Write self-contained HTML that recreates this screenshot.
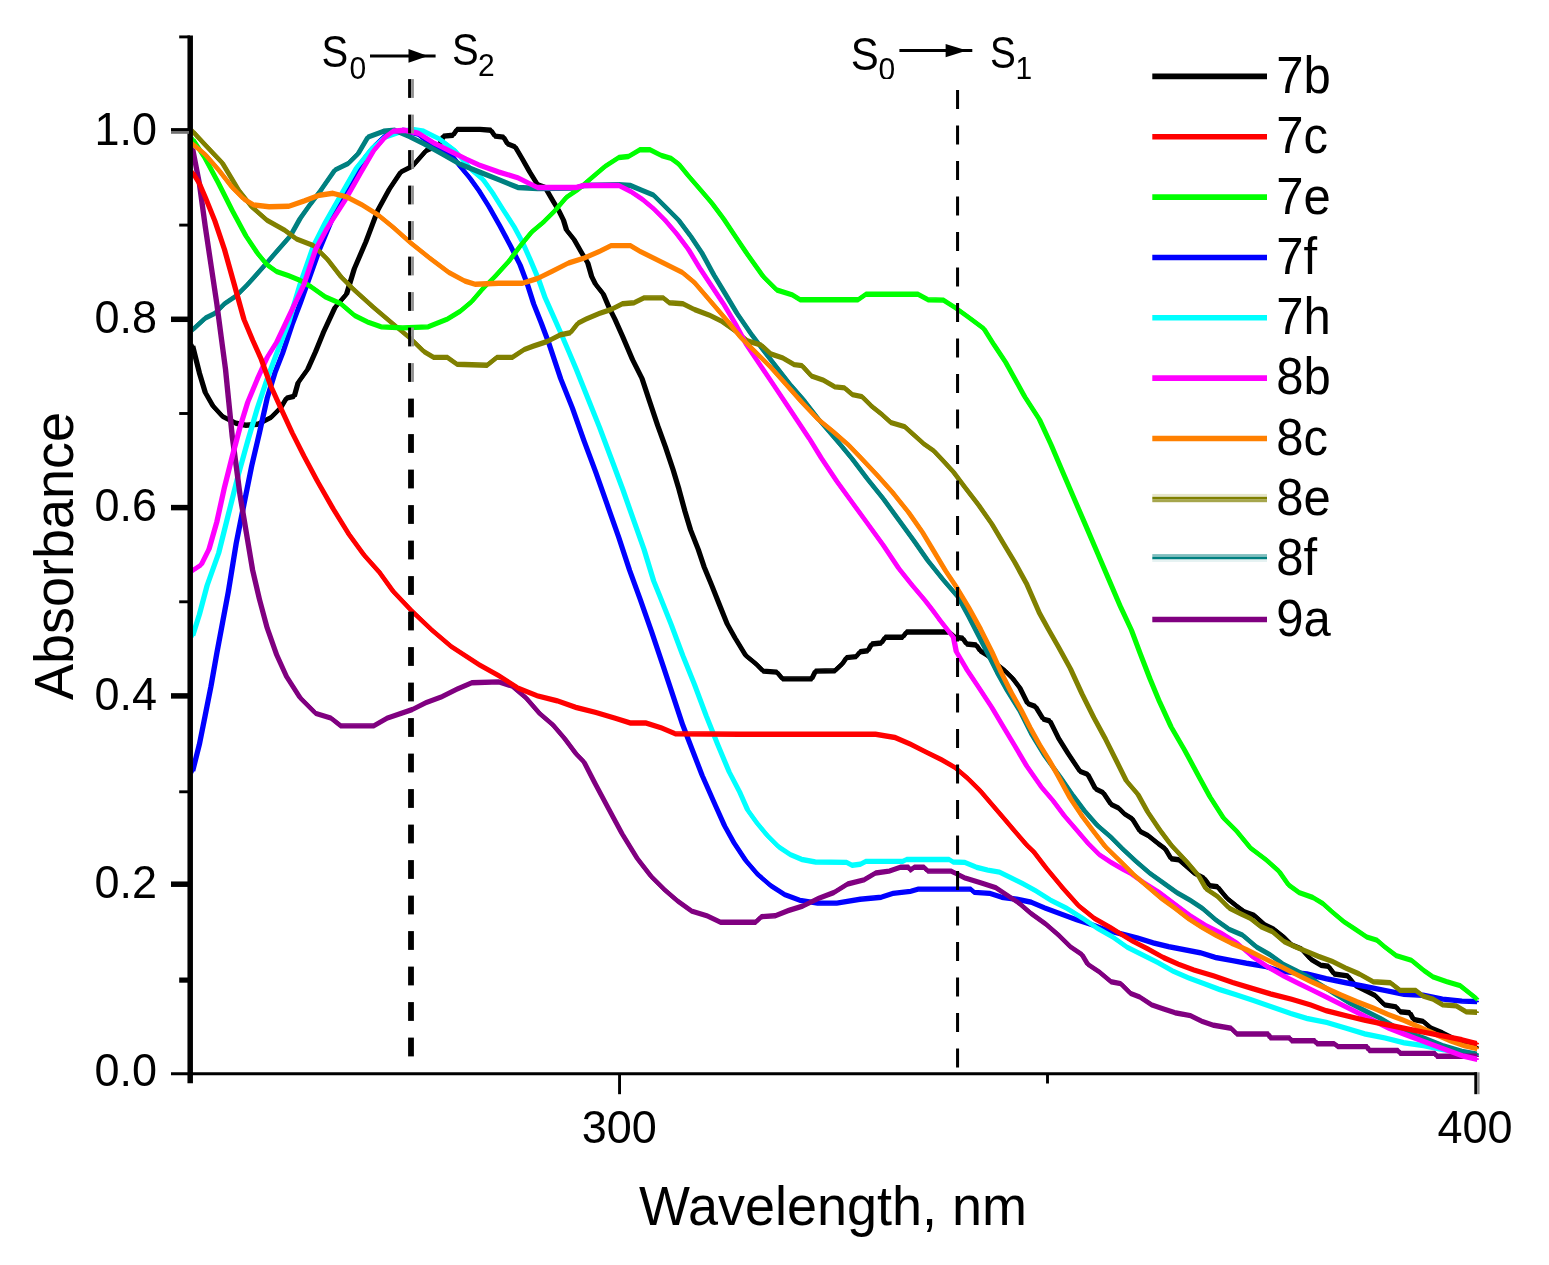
<!DOCTYPE html>
<html lang="en"><head><meta charset="utf-8"><title>Absorbance spectra</title>
<style>html,body{margin:0;padding:0;background:#fff}svg{display:block}text{font-family:"Liberation Sans",sans-serif;fill:#000}</style>
</head><body>
<svg width="1549" height="1265" viewBox="0 0 1549 1265">
<rect width="1549" height="1265" fill="#fff"/>
<defs>
<polyline id="c-black" points="192.6,345.8 199.4,372.9 205.2,392.3 212.9,405.9 222.6,416.5 236.2,423.3 245.9,425.2 257.5,424.3 271.0,417.5 280.7,407.8 286.5,398.1 294.3,396.2 298.1,382.6 307.8,369.1 315.6,351.6 323.3,332.7 334.9,307.6 346.6,294.0 354.3,268.8 365.9,241.7 377.6,210.7 389.2,189.4 400.8,172.0 412.4,166.2 426.0,150.7 439.5,144.9 443.4,136.1 453.1,135.2 457.0,129.4 480.0,129.4 491.0,130.3 494.9,136.1 503.6,137.1 507.5,143.9 515.2,146.8 522.0,158.4 529.7,172.0 537.5,184.6 545.2,187.5 553.0,201.0 558.8,210.7 563.6,220.4 566.5,230.1 574.3,239.8 582.0,253.3 587.8,263.0 591.7,276.6 595.6,284.3 603.3,294.0 609.1,307.6 614.9,319.2 622.7,336.6 632.4,359.4 642.1,378.7 649.8,402.0 657.6,425.2 665.3,446.5 673.1,469.8 678.9,489.1 684.7,510.4 690.5,529.8 698.2,549.2 704.0,566.6 711.8,585.5 719.5,604.9 727.3,624.2 735.0,637.8 745.8,655.6 755.5,663.4 763.2,671.1 776.8,672.1 782.6,678.9 811.7,678.9 815.5,671.1 834.9,670.7 842.7,663.4 846.5,657.6 856.2,656.6 860.1,651.7 867.8,650.8 871.7,644.0 881.4,643.0 885.3,637.2 902.7,637.2 906.6,632.0 949.2,632.0 955.0,637.2 962.7,638.2 966.6,644.0 976.3,645.0 980.2,650.8 987.9,655.6 995.7,663.4 1005.3,671.1 1013.1,678.9 1020.0,688.1 1027.7,703.6 1035.5,706.5 1043.2,719.1 1050.0,721.0 1058.7,738.5 1068.4,754.0 1080.0,771.4 1087.8,774.3 1095.5,788.8 1103.3,792.7 1111.0,804.3 1118.8,808.2 1124.6,814.0 1132.3,818.8 1140.1,831.4 1147.8,835.3 1157.5,843.1 1165.3,848.9 1171.1,858.7 1178.8,859.7 1186.6,866.5 1194.3,873.2 1204.0,878.1 1209.8,885.8 1217.6,886.8 1221.4,891.6 1227.2,898.4 1236.9,906.2 1244.7,912.0 1254.4,915.5 1264.5,924.6 1274.2,929.4 1283.9,937.2 1291.6,944.9 1301.3,948.8 1311.0,959.4 1320.7,965.2 1328.4,966.2 1334.2,974.0 1347.8,975.9 1355.5,985.6 1367.1,991.4 1374.9,995.3 1384.6,1004.9 1396.2,1006.9 1400.1,1011.7 1409.8,1012.7 1413.6,1019.5 1423.3,1021.4 1431.1,1028.2 1442.7,1033.0 1458.2,1040.8 1477.0,1047.6"/>
<polyline id="c-blue" points="192.6,771.4 199.4,744.3 205.2,715.3 211.0,686.2 216.8,653.3 222.6,622.3 228.4,591.3 236.2,543.4 243.9,504.6 251.7,465.9 259.4,433.0 267.2,398.1 274.9,372.9 282.7,353.0 292.0,325.0 300.1,303.7 319.5,249.5 338.8,203.0 350.4,187.5 365.9,156.5 373.7,146.8 385.0,136.0 402.7,130.3 418.0,134.0 431.8,144.9 451.2,154.5 460.0,166.2 469.7,177.8 479.4,191.3 489.1,206.8 500.0,226.2 510.4,245.6 520.1,264.9 527.4,284.3 533.6,303.7 541.3,323.1 549.1,343.9 560.7,378.7 572.3,407.8 584.0,440.7 595.6,471.7 607.2,504.6 618.8,537.6 629.5,570.0 640.1,599.1 651.7,632.0 663.4,666.8 673.1,695.9 682.7,724.9 692.4,750.1 702.1,775.3 715.0,804.5 724.6,825.9 734.3,843.3 745.9,860.7 757.6,874.3 771.1,885.9 784.7,894.6 800.2,900.4 817.5,903.1 836.8,903.1 860.1,899.2 881.4,897.2 893.0,893.4 910.4,891.4 918.2,889.1 970.5,889.1 974.4,892.4 989.8,893.4 1001.5,897.2 1017.0,899.2 1031.6,902.3 1045.2,908.1 1060.7,913.9 1076.2,919.7 1091.7,924.6 1107.2,930.4 1122.7,934.3 1138.1,938.1 1153.6,943.0 1169.1,946.8 1184.6,949.7 1200.1,952.7 1215.6,957.5 1231.1,960.4 1246.6,963.3 1264.5,966.2 1280.0,971.1 1307.1,974.0 1326.5,978.8 1345.8,982.7 1365.2,986.5 1384.6,990.4 1403.9,994.3 1423.3,995.3 1442.7,999.1 1462.1,1001.1 1477.0,1001.5"/>
<polyline id="c-cyan" points="192.6,635.9 199.4,614.5 207.1,585.5 218.7,553.0 228.4,514.3 238.1,475.6 247.8,440.7 257.5,407.8 267.2,378.7 276.8,353.0 288.5,323.0 300.1,284.3 313.6,245.6 325.3,222.3 340.8,195.2 356.3,168.1 371.7,148.7 385.3,137.1 398.9,132.3 412.4,129.4 424.0,131.3 439.5,139.0 455.0,150.7 471.6,170.0 483.2,179.7 492.9,193.3 502.6,208.8 513.8,226.2 522.2,241.7 530.0,259.1 539.0,280.4 545.2,297.9 553.0,315.3 560.7,332.7 569.4,353.0 576.2,369.1 587.8,398.1 599.5,427.2 611.1,458.1 622.7,489.1 634.3,522.1 644.0,549.2 653.7,581.0 659.5,595.2 671.1,624.2 682.7,655.2 694.4,684.3 706.0,715.3 717.6,744.3 729.2,772.0 740.0,792.7 747.7,810.1 757.4,823.6 767.1,835.3 778.7,846.9 790.4,854.6 802.0,859.5 815.5,862.0 846.5,862.4 852.3,865.3 860.1,864.3 865.9,861.4 902.7,861.4 906.6,859.5 949.2,859.5 953.1,862.0 964.7,862.4 976.3,867.2 987.9,870.1 999.5,872.1 1011.2,877.9 1022.8,883.7 1035.5,890.7 1051.0,900.4 1066.5,908.1 1082.0,917.8 1097.5,928.4 1113.0,937.2 1126.5,946.8 1142.0,954.6 1157.5,962.3 1173.0,971.1 1188.5,977.8 1204.0,983.6 1219.5,989.5 1235.0,994.3 1252.4,1000.1 1271.8,1006.9 1291.2,1013.7 1307.1,1018.5 1326.5,1022.4 1345.8,1028.2 1365.2,1034.0 1384.6,1037.9 1403.9,1042.7 1423.3,1045.6 1442.7,1049.5 1462.1,1052.4 1477.0,1055.3"/>
<polyline id="c-teal" points="192.6,329.8 205.2,318.2 214.9,313.4 224.5,303.7 236.2,295.9 247.8,284.3 263.3,266.9 276.8,251.4 290.4,235.9 300.1,218.5 309.8,204.9 321.4,189.4 334.9,170.0 348.5,163.3 358.2,153.6 367.9,137.1 383.4,131.3 395.0,130.3 408.5,136.1 424.0,143.9 441.5,153.6 460.0,164.2 479.4,172.0 498.7,179.7 518.1,187.5 537.5,188.5 576.2,188.0 584.0,185.5 618.8,184.6 630.4,185.5 642.1,190.4 653.7,195.2 665.3,206.8 678.9,220.4 690.5,235.9 702.1,253.3 713.7,274.6 725.4,294.0 737.0,313.4 751.6,334.6 763.2,350.1 776.8,367.5 790.4,384.9 803.9,400.4 817.5,417.9 829.1,431.4 840.7,445.0 852.3,459.0 867.8,479.4 883.3,498.7 898.8,520.0 914.3,541.3 927.9,560.7 943.4,580.1 958.5,597.5 969.0,616.9 979.0,636.3 987.9,653.7 997.6,673.0 1007.3,690.5 1020.0,711.0 1031.6,734.0 1045.0,756.0 1060.7,777.8 1072.3,794.6 1083.9,810.1 1097.5,825.6 1111.0,837.2 1122.7,849.0 1136.2,861.6 1149.8,873.2 1163.3,882.9 1176.9,892.6 1190.4,900.4 1202.1,908.1 1215.6,919.7 1229.2,929.4 1242.7,935.2 1256.3,946.8 1269.9,954.6 1283.4,964.3 1297.0,971.1 1310.5,978.0 1318.7,983.6 1334.2,993.3 1349.7,1003.0 1365.2,1010.8 1380.7,1018.5 1400.1,1030.1 1423.3,1037.9 1442.7,1045.6 1462.1,1051.4 1477.0,1054.3"/>
<polyline id="c-olive" points="192.6,131.3 205.2,144.9 222.6,163.3 238.1,189.4 251.7,206.8 267.2,220.4 284.6,230.1 296.2,238.8 313.6,245.6 327.2,259.1 340.8,276.6 354.3,290.1 373.7,307.6 393.1,324.0 410.5,338.5 424.0,351.6 433.7,357.4 447.3,357.4 457.0,364.2 487.1,365.2 496.8,357.4 512.3,357.4 523.9,349.7 533.6,346.0 547.2,341.5 560.7,334.7 570.4,332.7 578.1,323.1 585.9,319.2 599.5,313.4 611.1,309.5 622.7,303.7 634.3,302.7 644.0,297.9 663.4,297.9 669.2,302.7 682.7,303.7 694.4,309.5 709.9,315.3 721.5,321.1 735.0,330.8 747.7,341.0 761.3,345.2 771.0,354.0 782.6,357.8 794.2,364.6 802.0,365.6 811.7,376.2 823.3,380.1 834.9,386.9 844.6,387.9 852.3,394.6 862.0,396.6 871.7,406.3 881.4,414.0 891.1,422.7 904.6,426.6 914.3,435.3 924.0,444.0 933.7,450.8 943.4,461.0 953.1,471.6 964.7,487.1 978.2,504.5 991.8,523.9 1003.4,543.3 1015.0,562.7 1026.7,584.0 1039.4,613.0 1049.0,630.3 1058.7,647.4 1070.4,668.7 1082.0,693.9 1093.6,717.2 1105.2,738.5 1116.8,761.7 1126.5,781.1 1138.1,794.6 1147.8,812.1 1159.5,829.5 1171.1,845.0 1186.6,861.6 1198.2,875.2 1205.9,888.7 1217.6,896.5 1229.2,908.1 1240.8,913.9 1250.5,918.5 1260.6,926.5 1272.2,931.5 1283.9,941.5 1295.5,946.8 1307.1,951.7 1318.7,956.5 1332.3,961.4 1345.8,968.1 1359.4,974.0 1373.0,981.7 1390.4,982.7 1400.1,990.4 1415.6,990.4 1423.3,996.2 1433.0,999.1 1442.7,1004.9 1456.2,1005.9 1465.9,1011.7 1477.0,1012.3"/>
<polyline id="c-purple" points="192.6,148.7 199.4,183.6 205.2,226.2 211.0,265.0 216.8,303.7 221.6,340.0 225.5,369.1 228.4,398.1 232.3,436.8 236.2,465.9 240.0,494.9 243.9,518.2 247.8,541.4 252.6,570.0 259.4,599.1 267.2,628.1 276.8,655.2 286.5,676.5 300.1,697.8 315.6,713.3 331.1,718.2 340.8,725.9 373.7,725.9 387.2,718.2 412.4,709.5 426.0,702.7 441.5,696.9 457.0,689.1 471.6,682.8 498.7,681.9 512.3,686.2 525.9,697.8 539.4,713.3 553.0,724.9 564.6,738.5 576.2,754.0 584.0,762.0 594.9,783.2 608.4,808.4 622.0,833.6 637.5,858.8 651.0,876.2 664.6,889.8 678.1,901.4 691.7,911.1 707.2,915.9 720.8,922.3 755.6,922.3 761.3,916.7 775.0,915.8 788.5,910.5 803.0,906.0 818.5,898.4 834.0,892.5 847.6,884.0 864.0,879.8 875.6,873.0 889.1,871.1 900.8,867.2 908.5,867.2 910.4,870.1 914.3,867.2 924.0,867.2 927.9,871.1 951.1,871.1 955.0,873.0 964.7,877.9 980.2,882.7 995.7,887.6 1007.3,895.3 1018.9,903.1 1031.6,913.9 1045.2,923.6 1058.7,935.2 1070.4,946.8 1082.0,954.6 1087.8,964.3 1099.4,972.0 1111.0,981.7 1120.7,983.6 1130.4,993.3 1140.1,997.2 1151.7,1004.9 1163.3,1008.8 1174.9,1012.7 1190.4,1015.6 1202.1,1021.4 1213.7,1025.3 1231.1,1028.2 1236.9,1034.0 1268.4,1034.0 1270.3,1037.9 1289.7,1037.9 1291.6,1040.8 1314.9,1040.8 1316.8,1043.7 1334.2,1043.7 1338.1,1046.6 1367.1,1046.6 1369.1,1050.5 1398.1,1050.5 1400.1,1053.4 1434.9,1053.4 1436.9,1056.3 1477.0,1056.3"/>
<polyline id="c-green" points="192.6,139.0 205.2,158.4 218.7,183.6 232.3,210.7 245.9,235.9 257.5,253.3 267.2,264.9 276.8,271.7 288.5,275.6 300.1,280.4 311.7,287.2 325.3,296.9 340.8,303.7 354.3,315.3 367.9,322.1 381.4,326.9 402.7,327.9 427.9,326.9 447.3,319.2 460.0,311.4 471.6,301.7 483.2,288.2 494.9,276.6 509.0,261.1 520.6,245.6 531.7,232.0 543.3,222.3 554.9,210.7 566.5,197.2 578.1,189.4 591.7,177.8 605.3,166.2 618.8,157.5 628.5,156.5 640.1,149.7 649.8,149.7 661.4,155.5 671.1,158.4 678.9,164.2 688.5,175.9 700.2,189.4 711.8,203.0 723.4,218.5 735.0,235.9 746.7,253.3 763.2,276.5 776.8,290.0 792.3,294.9 800.0,299.7 858.1,299.7 865.9,294.3 918.2,294.3 927.9,299.7 943.4,300.1 955.0,307.5 968.5,317.2 984.0,328.8 993.7,344.3 1005.3,361.7 1015.0,379.1 1024.7,396.6 1039.4,419.4 1051.0,444.5 1062.6,471.7 1074.2,498.8 1085.9,525.9 1097.5,553.0 1109.1,580.1 1120.7,607.2 1131.4,630.0 1140.1,653.2 1149.8,678.4 1159.5,701.7 1171.1,726.8 1184.6,750.1 1198.2,775.3 1209.8,796.6 1223.4,817.9 1236.9,831.4 1250.5,848.0 1266.0,859.7 1279.0,871.3 1288.5,884.9 1299.2,892.6 1312.9,897.5 1322.6,903.3 1332.3,912.0 1343.9,921.7 1355.5,929.4 1367.1,937.2 1376.8,940.1 1384.6,946.8 1396.2,955.6 1411.7,960.4 1423.3,970.1 1433.0,976.9 1446.6,981.7 1460.1,985.6 1469.8,993.3 1477.0,999.1"/>
<polyline id="c-magenta" points="192.6,570.5 201.3,564.7 209.0,549.2 216.8,522.0 224.5,487.2 232.3,456.2 240.0,427.2 247.8,402.0 257.5,378.7 267.2,357.4 276.8,341.9 288.5,317.2 304.0,284.3 315.6,249.5 327.2,228.1 344.6,201.0 360.1,173.9 373.7,150.7 385.3,137.1 393.1,131.3 404.7,130.3 418.2,133.2 433.7,142.9 451.2,151.6 466.7,159.4 479.4,165.2 498.7,172.0 518.1,177.8 537.5,187.5 576.2,187.5 584.0,185.5 618.8,185.5 630.4,191.3 642.1,199.1 653.7,208.8 665.3,220.4 676.9,234.0 688.5,249.5 700.2,268.8 711.8,286.3 723.4,303.7 735.0,323.1 746.7,345.0 763.2,369.5 774.9,386.9 786.5,404.3 798.1,421.7 809.7,439.2 821.3,458.0 836.8,481.3 852.3,502.6 867.8,523.9 883.3,545.2 898.8,568.5 912.0,585.0 924.7,600.0 932.5,610.0 939.4,619.4 953.5,637.5 956.3,651.7 966.6,669.2 978.2,686.6 991.8,707.4 1003.4,726.8 1015.0,746.2 1026.7,766.0 1041.3,786.9 1052.9,800.4 1064.5,815.9 1076.2,829.5 1087.8,843.1 1099.4,854.7 1111.0,862.4 1122.7,869.2 1130.4,873.2 1144.0,882.9 1159.5,892.6 1174.9,904.2 1190.4,915.9 1205.9,925.5 1221.4,933.3 1236.9,943.0 1252.4,956.5 1267.9,967.0 1283.4,975.9 1298.9,983.6 1311.0,989.5 1326.5,997.2 1342.0,1004.9 1357.5,1012.7 1373.0,1020.4 1388.5,1028.2 1403.9,1034.0 1419.4,1039.8 1434.9,1045.6 1450.4,1051.4 1464.0,1056.3 1477.0,1059.2"/>
<polyline id="c-orange" points="192.6,143.9 205.2,154.5 218.7,170.0 232.3,187.5 243.9,199.1 253.6,204.9 269.1,206.8 288.5,206.3 304.0,201.0 319.5,195.2 333.0,193.3 346.6,196.8 362.1,204.9 377.6,214.6 393.1,227.2 410.5,242.7 429.9,258.2 449.2,272.7 464.7,281.0 475.5,284.3 498.7,283.3 522.0,283.3 537.5,278.5 553.0,270.8 568.5,263.0 584.0,258.2 599.5,251.4 611.1,245.6 630.4,245.6 640.1,251.4 653.7,258.2 667.2,264.9 682.7,272.7 694.4,282.4 706.0,295.9 717.6,309.5 729.2,323.1 740.8,337.5 755.5,352.0 771.0,367.5 786.5,384.9 802.0,402.4 817.5,418.8 833.0,431.4 848.5,445.0 862.0,459.0 877.5,475.5 893.0,492.9 908.5,512.3 922.1,531.7 933.7,551.0 945.3,570.4 956.9,587.8 968.5,607.2 980.2,628.5 991.8,651.7 1001.5,673.0 1011.2,692.4 1020.8,709.4 1029.7,726.8 1039.4,744.3 1049.0,759.8 1058.7,777.2 1070.4,798.5 1082.0,815.9 1093.6,831.4 1105.2,846.5 1120.7,861.6 1134.3,875.2 1147.8,886.8 1161.4,898.4 1174.9,908.1 1188.5,918.8 1202.1,927.5 1215.6,935.2 1231.1,943.0 1246.6,949.7 1264.5,958.5 1280.0,966.2 1295.5,974.0 1311.0,981.7 1326.5,988.5 1342.0,995.3 1357.5,1002.0 1373.0,1007.9 1388.5,1014.6 1403.9,1020.4 1419.4,1027.2 1434.9,1034.0 1450.4,1040.8 1464.0,1045.6 1477.0,1048.5"/>
<polyline id="c-red" points="192.6,172.5 199.4,183.5 205.2,197.0 214.9,221.0 224.5,249.5 234.2,284.3 243.9,319.2 252.6,340.0 261.3,359.4 271.0,386.5 280.7,407.8 292.3,433.0 304.0,456.2 317.5,481.4 333.0,508.5 348.5,533.7 364.0,555.0 379.5,572.4 393.1,591.3 412.4,611.6 431.8,630.0 451.2,646.5 479.4,664.9 498.7,675.6 518.1,688.1 537.5,695.9 556.8,700.7 576.2,707.5 595.6,712.4 614.9,718.2 630.4,723.0 645.9,723.0 661.4,727.9 675.0,733.7 740.0,734.2 875.6,734.2 895.0,737.5 910.4,744.2 925.9,752.0 941.4,759.7 955.0,767.5 968.5,779.1 980.2,790.7 991.8,804.3 1003.4,817.8 1015.0,831.4 1026.7,845.0 1033.9,851.9 1046.2,868.1 1062.4,887.6 1078.6,905.7 1094.8,918.7 1111.0,927.8 1120.0,933.5 1132.3,941.0 1147.8,948.8 1163.3,957.5 1178.8,964.3 1194.3,970.1 1213.7,975.9 1233.1,982.7 1252.4,988.5 1271.8,994.3 1291.2,999.1 1310.5,1004.9 1326.5,1010.8 1345.8,1015.6 1365.2,1020.4 1384.6,1024.3 1403.9,1028.2 1423.3,1032.1 1442.7,1035.9 1462.1,1039.8 1477.0,1043.7"/>
</defs>
<g id="curves" fill="none" stroke-linejoin="round" stroke-linecap="butt" stroke-width="1.6">
<g stroke="#000000"><use href="#c-black" x="-1.90"/><use href="#c-black" y="-1.90"/><use href="#c-black" x="-0.95"/><use href="#c-black" y="-0.95"/><use href="#c-black" x="0.00"/><use href="#c-black" x="0.95"/><use href="#c-black" y="0.95"/><use href="#c-black" x="1.90"/><use href="#c-black" y="1.90"/></g>
<g stroke="#0000ff"><use href="#c-blue" x="-1.90"/><use href="#c-blue" y="-1.90"/><use href="#c-blue" x="-0.95"/><use href="#c-blue" y="-0.95"/><use href="#c-blue" x="0.00"/><use href="#c-blue" x="0.95"/><use href="#c-blue" y="0.95"/><use href="#c-blue" x="1.90"/><use href="#c-blue" y="1.90"/></g>
<g stroke="#00ffff"><use href="#c-cyan" x="-1.90"/><use href="#c-cyan" y="-1.90"/><use href="#c-cyan" x="-0.95"/><use href="#c-cyan" y="-0.95"/><use href="#c-cyan" x="0.00"/><use href="#c-cyan" x="0.95"/><use href="#c-cyan" y="0.95"/><use href="#c-cyan" x="1.90"/><use href="#c-cyan" y="1.90"/></g>
<g stroke="#008080"><use href="#c-teal" x="-1.90"/><use href="#c-teal" y="-1.90"/><use href="#c-teal" x="-0.95"/><use href="#c-teal" y="-0.95"/><use href="#c-teal" x="0.00"/><use href="#c-teal" x="0.95"/><use href="#c-teal" y="0.95"/><use href="#c-teal" x="1.90"/><use href="#c-teal" y="1.90"/></g>
<g stroke="#808000"><use href="#c-olive" x="-1.90"/><use href="#c-olive" y="-1.90"/><use href="#c-olive" x="-0.95"/><use href="#c-olive" y="-0.95"/><use href="#c-olive" x="0.00"/><use href="#c-olive" x="0.95"/><use href="#c-olive" y="0.95"/><use href="#c-olive" x="1.90"/><use href="#c-olive" y="1.90"/></g>
<g stroke="#800080"><use href="#c-purple" x="-1.90"/><use href="#c-purple" y="-1.90"/><use href="#c-purple" x="-0.95"/><use href="#c-purple" y="-0.95"/><use href="#c-purple" x="0.00"/><use href="#c-purple" x="0.95"/><use href="#c-purple" y="0.95"/><use href="#c-purple" x="1.90"/><use href="#c-purple" y="1.90"/></g>
<g stroke="#00ff00"><use href="#c-green" x="-1.90"/><use href="#c-green" y="-1.90"/><use href="#c-green" x="-0.95"/><use href="#c-green" y="-0.95"/><use href="#c-green" x="0.00"/><use href="#c-green" x="0.95"/><use href="#c-green" y="0.95"/><use href="#c-green" x="1.90"/><use href="#c-green" y="1.90"/></g>
<g stroke="#ff00ff"><use href="#c-magenta" x="-1.90"/><use href="#c-magenta" y="-1.90"/><use href="#c-magenta" x="-0.95"/><use href="#c-magenta" y="-0.95"/><use href="#c-magenta" x="0.00"/><use href="#c-magenta" x="0.95"/><use href="#c-magenta" y="0.95"/><use href="#c-magenta" x="1.90"/><use href="#c-magenta" y="1.90"/></g>
<g stroke="#ff8000"><use href="#c-orange" x="-1.90"/><use href="#c-orange" y="-1.90"/><use href="#c-orange" x="-0.95"/><use href="#c-orange" y="-0.95"/><use href="#c-orange" x="0.00"/><use href="#c-orange" x="0.95"/><use href="#c-orange" y="0.95"/><use href="#c-orange" x="1.90"/><use href="#c-orange" y="1.90"/></g>
<g stroke="#ff0000"><use href="#c-red" x="-1.90"/><use href="#c-red" y="-1.90"/><use href="#c-red" x="-0.95"/><use href="#c-red" y="-0.95"/><use href="#c-red" x="0.00"/><use href="#c-red" x="0.95"/><use href="#c-red" y="0.95"/><use href="#c-red" x="1.90"/><use href="#c-red" y="1.90"/></g>
</g>
<g id="guides"><rect x="408.10" y="79.10" width="3.10" height="18.8" fill="#000"/><rect x="411.20" y="79.10" width="2.70" height="18.8" fill="#8f8f8f"/><rect x="408.10" y="114.60" width="3.10" height="18.8" fill="#000"/><rect x="411.20" y="114.60" width="2.70" height="18.8" fill="#8f8f8f"/><rect x="408.10" y="150.10" width="3.10" height="18.8" fill="#000"/><rect x="411.20" y="150.10" width="2.70" height="18.8" fill="#8f8f8f"/><rect x="408.10" y="185.60" width="3.10" height="18.8" fill="#000"/><rect x="411.20" y="185.60" width="2.70" height="18.8" fill="#8f8f8f"/><rect x="408.10" y="221.10" width="3.10" height="18.8" fill="#000"/><rect x="411.20" y="221.10" width="2.70" height="18.8" fill="#8f8f8f"/><rect x="408.10" y="256.60" width="3.10" height="18.8" fill="#000"/><rect x="411.20" y="256.60" width="2.70" height="18.8" fill="#8f8f8f"/><rect x="408.10" y="292.10" width="3.10" height="18.8" fill="#000"/><rect x="411.20" y="292.10" width="2.70" height="18.8" fill="#8f8f8f"/><rect x="408.10" y="327.60" width="3.10" height="18.8" fill="#000"/><rect x="411.20" y="327.60" width="2.70" height="18.8" fill="#8f8f8f"/><rect x="408.10" y="363.10" width="3.10" height="18.8" fill="#000"/><rect x="411.20" y="363.10" width="2.70" height="18.8" fill="#8f8f8f"/><rect x="408.10" y="398.60" width="5.80" height="18.8" fill="#000"/><rect x="408.10" y="434.10" width="5.80" height="18.8" fill="#000"/><rect x="408.10" y="469.60" width="5.80" height="18.8" fill="#000"/><rect x="408.10" y="505.10" width="5.80" height="18.8" fill="#000"/><rect x="408.10" y="540.60" width="5.80" height="18.8" fill="#000"/><rect x="408.10" y="576.10" width="5.80" height="18.8" fill="#000"/><rect x="408.10" y="611.60" width="5.80" height="18.8" fill="#000"/><rect x="408.10" y="647.10" width="5.80" height="18.8" fill="#000"/><rect x="408.10" y="682.60" width="5.80" height="18.8" fill="#000"/><rect x="408.10" y="718.10" width="5.80" height="18.8" fill="#000"/><rect x="408.10" y="753.60" width="5.80" height="18.8" fill="#000"/><rect x="408.10" y="789.10" width="5.80" height="18.8" fill="#000"/><rect x="408.10" y="824.60" width="5.80" height="18.8" fill="#000"/><rect x="408.10" y="860.10" width="5.80" height="18.8" fill="#000"/><rect x="408.10" y="895.60" width="5.80" height="18.8" fill="#000"/><rect x="408.10" y="931.10" width="5.80" height="18.8" fill="#000"/><rect x="408.10" y="966.60" width="5.80" height="18.8" fill="#000"/><rect x="408.10" y="1002.10" width="5.80" height="18.8" fill="#000"/><rect x="408.10" y="1037.60" width="5.80" height="18.8" fill="#000"/><rect x="956.05" y="90.00" width="3.02" height="19" fill="#000"/><rect x="956.05" y="125.50" width="3.02" height="19" fill="#000"/><rect x="956.05" y="161.00" width="3.02" height="19" fill="#000"/><rect x="956.05" y="196.50" width="3.02" height="19" fill="#000"/><rect x="956.05" y="232.00" width="3.02" height="19" fill="#000"/><rect x="956.05" y="267.50" width="3.02" height="19" fill="#000"/><rect x="956.05" y="303.00" width="3.02" height="19" fill="#000"/><rect x="956.05" y="338.50" width="3.02" height="19" fill="#000"/><rect x="956.05" y="374.00" width="3.02" height="19" fill="#000"/><rect x="956.05" y="409.50" width="3.02" height="19" fill="#000"/><rect x="956.05" y="445.00" width="3.02" height="19" fill="#000"/><rect x="956.05" y="480.50" width="3.02" height="19" fill="#000"/><rect x="956.05" y="516.00" width="3.02" height="19" fill="#000"/><rect x="956.05" y="551.50" width="3.02" height="19" fill="#000"/><rect x="956.05" y="587.00" width="3.02" height="19" fill="#000"/><rect x="956.05" y="622.50" width="3.02" height="19" fill="#000"/><rect x="956.05" y="658.00" width="3.02" height="19" fill="#000"/><rect x="956.05" y="693.50" width="3.02" height="19" fill="#000"/><rect x="956.05" y="729.00" width="3.02" height="19" fill="#000"/><rect x="956.05" y="764.50" width="3.02" height="19" fill="#000"/><rect x="956.05" y="800.00" width="3.02" height="19" fill="#000"/><rect x="956.05" y="835.50" width="3.02" height="19" fill="#000"/><rect x="956.05" y="871.00" width="3.02" height="19" fill="#000"/><rect x="956.05" y="906.50" width="3.02" height="19" fill="#000"/><rect x="956.05" y="942.00" width="3.02" height="19" fill="#000"/><rect x="956.05" y="977.50" width="3.02" height="19" fill="#000"/><rect x="956.05" y="1013.00" width="3.02" height="19" fill="#000"/><rect x="956.05" y="1048.50" width="3.02" height="19" fill="#000"/></g>
<g id="axes" stroke="#000" fill="none">
<line x1="190.2" y1="35.4" x2="190.2" y2="1083.3" stroke-width="5.5"/>
<line x1="171" y1="1073.75" x2="1477" y2="1073.75" stroke-width="2.9"/>
<rect x="171" y="128.1" width="18" height="2.9" fill="#000" stroke="none"/><rect x="171" y="131" width="18" height="2.8" fill="#707070" stroke="none"/>
<line x1="171" y1="319.3" x2="190" y2="319.3" stroke-width="5.5"/>
<line x1="171" y1="507.6" x2="190" y2="507.6" stroke-width="5.5"/>
<line x1="171" y1="695.9" x2="190" y2="695.9" stroke-width="5.5"/>
<line x1="171" y1="884.2" x2="190" y2="884.2" stroke-width="5.5"/>
<line x1="179.2" y1="36.9" x2="190" y2="36.9" stroke-width="2.9"/>
<line x1="179.2" y1="225.1" x2="190" y2="225.1" stroke-width="2.9"/>
<line x1="179.2" y1="413.5" x2="190" y2="413.5" stroke-width="2.9"/>
<line x1="179.2" y1="601.8" x2="190" y2="601.8" stroke-width="2.9"/>
<line x1="179.2" y1="791.8" x2="190" y2="791.8" stroke-width="2.9"/>
<line x1="179.2" y1="980.1" x2="190" y2="980.1" stroke-width="5.2"/>
<line x1="619.55" y1="1073.8" x2="619.55" y2="1094.2" stroke-width="2.9"/>
<rect x="1474.3" y="1072.3" width="2.8" height="21.9" fill="#000" stroke="none"/><rect x="1477.1" y="1072.3" width="2.5" height="21.9" fill="#8a8a8a" stroke="none"/>
<line x1="1047.5" y1="1073.8" x2="1047.5" y2="1083.5" stroke-width="2.9"/>
</g>
<g id="ticklabels" font-size="45">
<text transform="translate(157,144.9) scale(1,1.04)" font-size="45" text-anchor="end">1.0</text>
<text transform="translate(157,333.0) scale(1,1.04)" font-size="45" text-anchor="end">0.8</text>
<text transform="translate(157,521.3) scale(1,1.04)" font-size="45" text-anchor="end">0.6</text>
<text transform="translate(157,709.6) scale(1,1.04)" font-size="45" text-anchor="end">0.4</text>
<text transform="translate(157,897.9) scale(1,1.04)" font-size="45" text-anchor="end">0.2</text>
<text transform="translate(157,1085.7) scale(1,1.04)" font-size="45" text-anchor="end">0.0</text>
<text transform="translate(619.3,1143.2) scale(1,1.04)" font-size="45" text-anchor="middle">300</text>
<text transform="translate(1475,1142.6) scale(1,1.04)" font-size="45" text-anchor="middle">400</text>
</g>
<text transform="translate(833,1224.8) scale(1,1.04)" font-size="54" text-anchor="middle">Wavelength, nm</text>
<text transform="translate(73,556) rotate(-90) scale(1,1.04)" font-size="54" text-anchor="middle">Absorbance</text>
<g id="legend" font-size="49">
<line x1="1152.3" y1="76.4" x2="1267" y2="76.4" stroke="#000000" stroke-width="5.6"/>
<text transform="translate(1276.2,92.9) scale(1,1.04)" font-size="49" text-anchor="start">7b</text>
<line x1="1152.3" y1="136.8" x2="1267" y2="136.8" stroke="#ff0000" stroke-width="5.6"/>
<text transform="translate(1276.2,153.2) scale(1,1.04)" font-size="49" text-anchor="start">7c</text>
<line x1="1152.3" y1="197.1" x2="1267" y2="197.1" stroke="#00ff00" stroke-width="5.6"/>
<text transform="translate(1276.2,213.5) scale(1,1.04)" font-size="49" text-anchor="start">7e</text>
<line x1="1152.3" y1="257.5" x2="1267" y2="257.5" stroke="#0000ff" stroke-width="5.6"/>
<text transform="translate(1276.2,273.8) scale(1,1.04)" font-size="49" text-anchor="start">7f</text>
<line x1="1152.3" y1="317.8" x2="1267" y2="317.8" stroke="#00ffff" stroke-width="5.6"/>
<text transform="translate(1276.2,334.1) scale(1,1.04)" font-size="49" text-anchor="start">7h</text>
<line x1="1152.3" y1="378.1" x2="1267" y2="378.1" stroke="#ff00ff" stroke-width="5.6"/>
<text transform="translate(1276.2,394.4) scale(1,1.04)" font-size="49" text-anchor="start">8b</text>
<line x1="1152.3" y1="438.5" x2="1267" y2="438.5" stroke="#ff8000" stroke-width="5.6"/>
<text transform="translate(1276.2,454.7) scale(1,1.04)" font-size="49" text-anchor="start">8c</text>
<rect x="1152.3" y="493.9" width="114.7" height="2.9" fill="#e6e6cc"/><rect x="1152.3" y="496.8" width="114.7" height="2.8" fill="#808000"/><rect x="1152.3" y="499.6" width="114.7" height="2.6" fill="#a6a64d"/>
<text transform="translate(1276.2,515.0) scale(1,1.04)" font-size="49" text-anchor="start">8e</text>
<rect x="1152.3" y="554.1" width="114.7" height="2.7" fill="#80bfbf"/><rect x="1152.3" y="556.8" width="114.7" height="2.7" fill="#008080"/><rect x="1152.3" y="559.5" width="114.7" height="2.5" fill="#e6f2f2"/>
<text transform="translate(1276.2,575.3) scale(1,1.04)" font-size="49" text-anchor="start">8f</text>
<line x1="1152.3" y1="619.5" x2="1267" y2="619.5" stroke="#800080" stroke-width="5.6"/>
<text transform="translate(1276.2,635.6) scale(1,1.04)" font-size="49" text-anchor="start">9a</text>
</g>
<g id="annot">
<text transform="translate(321.4,67.1) scale(1,1.09)" font-size="40" text-anchor="start">S</text><text transform="translate(349.6,79.0) scale(1,1.07)" font-size="30" text-anchor="start">0</text>
<text transform="translate(452.1,64.7) scale(1,1.09)" font-size="40" text-anchor="start">S</text><text transform="translate(478,76.3) scale(1,1.07)" font-size="30" text-anchor="start">2</text>
<line x1="370" y1="55.9" x2="435.6" y2="55.9" stroke="#000" stroke-width="3"/>
<polygon points="408.5,49.1 408.5,62.7 428,55.9" fill="#000"/>
<clipPath id="c1"><rect x="870" y="30" width="40" height="49"/></clipPath>
<text transform="translate(850.8,69.9) scale(1,1.12)" font-size="42" text-anchor="start">S</text><g clip-path="url(#c1)"><text transform="translate(878.6,80.3) scale(1,1.05)" font-size="30" text-anchor="start">0</text></g>
<text transform="translate(990,68) scale(1,1.158)" font-size="38.7" text-anchor="start">S</text><text transform="translate(1015.5,79.2) scale(1,1.04)" font-size="30" text-anchor="start">1</text>
<line x1="899.4" y1="50.6" x2="972.3" y2="50.6" stroke="#000" stroke-width="3"/>
<polygon points="945.6,44 945.6,57.3 967,50.6" fill="#000"/>
</g>
</svg></body></html>
